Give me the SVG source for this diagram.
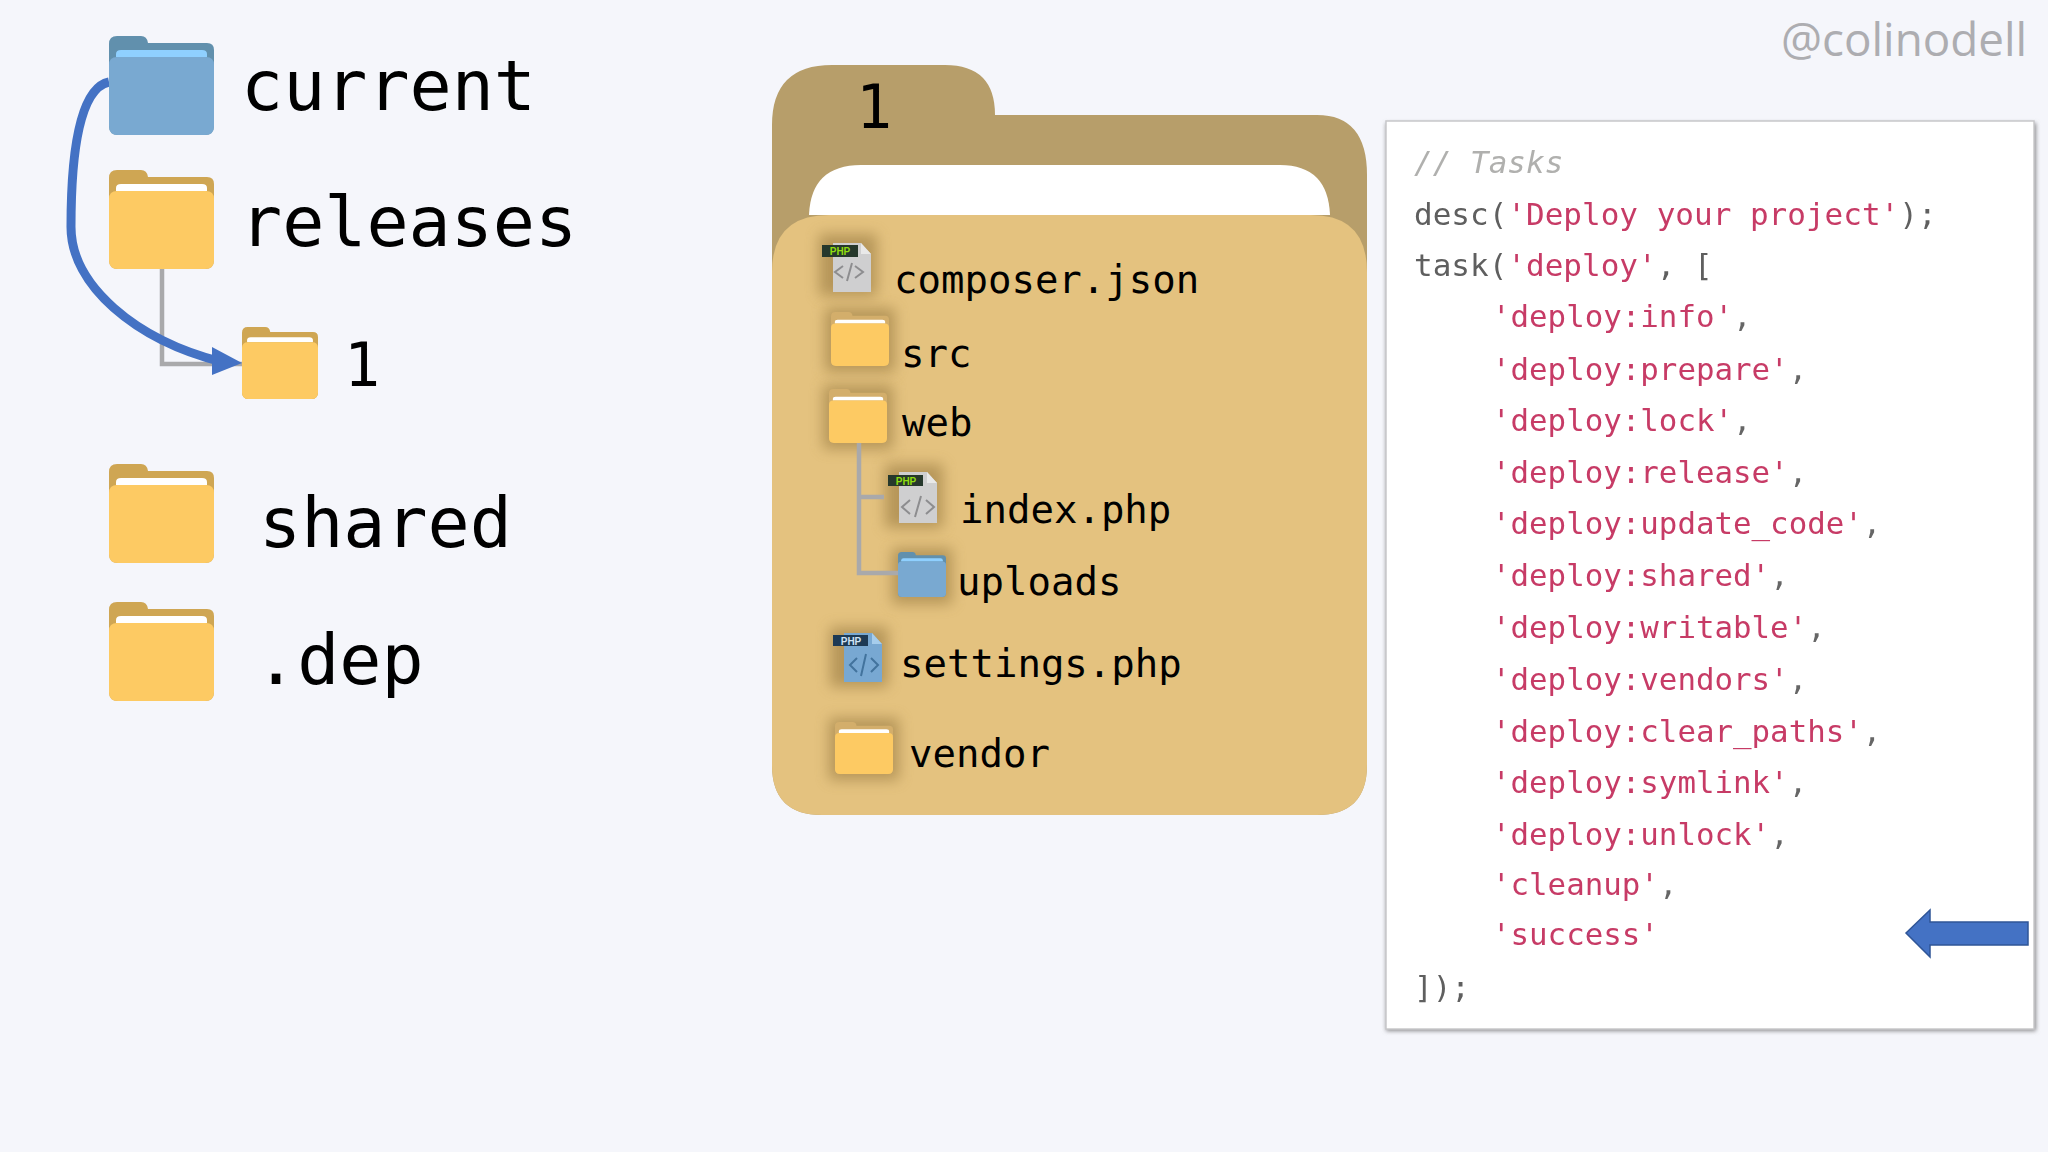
<svg xmlns="http://www.w3.org/2000/svg" width="2048" height="1152" viewBox="0 0 2048 1152">
<style>
text{font-family:"DejaVu Sans Mono","Liberation Mono",monospace;fill:#000}
.big{font-size:70px}
.mid{font-size:39px}
.one{font-size:60px}
.code text{font-size:31px}
.code .i{font-size:30.8px}
.g{fill:#5f5f5f}
.r{fill:#c73b66}
.c{fill:#b0b0ae;font-style:italic}
.p{fill:#666}
.tree{fill:none;stroke:#a9a9ab;stroke-width:4.5}
.halo{fill:#9a7b42;opacity:.62;filter:url(#haloBlur)}
.pg{fill:#cfcfd0}
.pgb{fill:#78a8d2}
.fold{fill:#e9e9e9}
.foldb{fill:#a6cdec}
.bd{fill:#26382c}
.bdb{fill:#1d3a55}
.bt{font-family:"Liberation Sans",Arial,sans-serif;font-size:10px;font-weight:700;fill:#8fdc10;text-anchor:middle}
.btb{fill:#cfe3f4}
.gl{fill:none;stroke:#8d8d8f;stroke-width:2}
.glb{fill:none;stroke:#42739d;stroke-width:2}
</style>
<defs>
<filter id="haloBlur" x="-40%" y="-40%" width="180%" height="180%"><feGaussianBlur stdDeviation="7"/></filter>
<filter id="soft" x="-2%" y="-10%" width="104%" height="120%"><feGaussianBlur stdDeviation="0.55"/></filter>
<filter id="panelShadow" x="-3%" y="-3%" width="106%" height="106%"><feGaussianBlur stdDeviation="2"/></filter>
<symbol id="folderY" viewBox="0 0 105 99" preserveAspectRatio="none">
<path d="M0 90V8Q0 0 8 0H32Q38 0 39 7H98Q105 7 105 14V90Q105 99 96 99H9Q0 99 0 90Z" fill="#cfa653"/>
<path d="M7 21V18Q7 14 12 14H93Q98 14 98 18V21Z" fill="#fff"/>
<path d="M0 90V29Q0 21 8 21H97Q105 21 105 29V90Q105 99 96 99H9Q0 99 0 90Z" fill="#fdca63"/>
</symbol>
<symbol id="folderS" viewBox="0 0 105 99" preserveAspectRatio="none">
<path d="M0 90V8Q0 0 8 0H32Q38 0 39 7H98Q105 7 105 14V90Q105 99 96 99H9Q0 99 0 90Z" fill="#d3ae6b"/>
<path d="M7 21V18Q7 14 12 14H93Q98 14 98 18V21Z" fill="#fff"/>
<path d="M0 90V29Q0 21 8 21H97Q105 21 105 29V90Q105 99 96 99H9Q0 99 0 90Z" fill="#fdca63"/>
</symbol>
<symbol id="folderB" viewBox="0 0 105 99" preserveAspectRatio="none">
<path d="M0 90V8Q0 0 8 0H32Q38 0 39 7H98Q105 7 105 14V90Q105 99 96 99H9Q0 99 0 90Z" fill="#6190ad"/>
<path d="M7 21V18Q7 14 12 14H93Q98 14 98 18V21Z" fill="#8fd0ff"/>
<path d="M0 90V29Q0 21 8 21H97Q105 21 105 29V90Q105 99 96 99H9Q0 99 0 90Z" fill="#79a9d1"/>
</symbol>
</defs>
<rect width="2048" height="1152" fill="#f5f6fb"/>

<g id="connectors">
<path class="tree" d="M162 269V364H242"/>
<path d="M109 82C80 88 71 150 71 227C71 285 135 340 222 362" fill="none" stroke="#4472c4" stroke-width="9"/>
<path d="M242 363L212 347L212 375Z" fill="#4472c4"/>
</g>

<g id="node-current"><use href="#folderB" x="109" y="36" width="105" height="99"/><text class="big" x="241" y="110">current</text></g>
<g id="node-releases"><use href="#folderY" x="109" y="170" width="105" height="99"/><text class="big" x="240" y="246">releases</text></g>
<g id="node-1"><use href="#folderY" x="242" y="327" width="76" height="72"/><text class="one" x="344" y="386">1</text></g>
<g id="node-shared"><use href="#folderY" x="109" y="464" width="105" height="99"/><text class="big" x="259" y="547">shared</text></g>
<g id="node-dep"><use href="#folderY" x="109" y="602" width="105" height="99"/><text class="big" x="255" y="684">.dep</text></g>

<g id="big-folder">
<path d="M772 815V125Q772 65 832 65H945Q995 65 995 115H1317Q1367 115 1367 175V765Q1367 815 1317 815H822Q772 815 772 765Z" fill="#b79e6a"/>
<path d="M809 215Q811 165 861 165H1280Q1328 165 1330 215Z" fill="#fff"/>
<path d="M772 765V272Q772 215 829 215H1311Q1367 215 1367 272V765Q1367 815 1317 815H822Q772 815 772 765Z" fill="#e4c27f"/>
<text class="one" x="856" y="128">1</text>
</g>

<g id="node-composer">
<rect class="halo" x="819" y="234" width="58" height="62"/>
<path class="pg" d="M833 243H861L871 254V292H833Z"/><path class="fold" d="M861 243L871 254H861Z"/>
<rect class="bd" x="822" y="245" width="36" height="12"/><text class="bt" x="840" y="255">PHP</text>
<path class="gl" d="M843 266L835 272L843 278M855 266L863 272L855 278M852 263L847 281"/>
<text class="mid" x="894" y="293">composer.json</text>
</g>
<g id="node-src">
<rect class="halo" x="825" y="308" width="70" height="64"/>
<use href="#folderS" x="831" y="312" width="58" height="54"/>
<text class="mid" x="901" y="367">src</text>
</g>
<g id="node-web">
<rect class="halo" x="823" y="385" width="70" height="64"/>
<use href="#folderS" x="829" y="389" width="58" height="54"/>
<text class="mid" x="902" y="436">web</text>
</g>
<g id="node-index">
<rect class="halo" x="885" y="464" width="58" height="64"/>
<path class="pg" d="M899 472H927L937 483V523H899Z"/><path class="fold" d="M927 472L937 483H927Z"/>
<rect class="bd" x="888" y="475" width="35" height="11"/><text class="bt" x="906" y="485">PHP</text>
<path class="gl" d="M910 500L902 507L910 514M926 500L934 507L926 514M921 496L915 517"/>
<text class="mid" x="960" y="523">index.php</text>
</g>
<g id="node-uploads">
<rect class="halo" x="892" y="548" width="60" height="56"/>
<use href="#folderB" x="898" y="552" width="48" height="45"/>
<text class="mid" x="957" y="595">uploads</text>
</g>
<g id="node-settings">
<rect class="halo" x="830" y="627" width="58" height="60"/>
<path class="pgb" d="M844 633H872L882 644V682H844Z"/><path class="foldb" d="M872 633L882 644H872Z"/>
<rect class="bdb" x="833" y="635" width="35" height="11"/><text class="bt btb" x="851" y="645">PHP</text>
<path class="glb" d="M857 658L850 665L857 672M871 658L878 665L871 672M866 654L861 676"/>
<text class="mid" x="900" y="677">settings.php</text>
</g>
<g id="node-vendor">
<rect class="halo" x="829" y="718" width="70" height="62"/>
<use href="#folderS" x="835" y="722" width="58" height="52"/>
<text class="mid" x="909" y="767">vendor</text>
</g>
<g id="tree-web"><path class="tree" d="M859 443V573H898M859 497H884"/></g>

<g id="code-panel">
<rect x="1386" y="123" width="650" height="908" fill="#8a8a8c" filter="url(#panelShadow)"/>
<rect x="1386" y="121" width="648" height="908" fill="#fff" stroke="#c8c8ca" stroke-width="1.5"/>
<g class="code" filter="url(#soft)">
<text class="c" x="1414" y="173">// Tasks</text>
<text x="1414" y="225" class="g">desc(<tspan class="r">'Deploy your project'</tspan>);</text>
<text x="1414" y="276" class="g">task(<tspan class="r">'deploy'</tspan>, [</text>
<text x="1492" y="327" class="r i">'deploy:info'<tspan class="p">,</tspan></text>
<text x="1492" y="380" class="r i">'deploy:prepare'<tspan class="p">,</tspan></text>
<text x="1492" y="431" class="r i">'deploy:lock'<tspan class="p">,</tspan></text>
<text x="1492" y="483" class="r i">'deploy:release'<tspan class="p">,</tspan></text>
<text x="1492" y="534" class="r i">'deploy:update_code'<tspan class="p">,</tspan></text>
<text x="1492" y="586" class="r i">'deploy:shared'<tspan class="p">,</tspan></text>
<text x="1492" y="638" class="r i">'deploy:writable'<tspan class="p">,</tspan></text>
<text x="1492" y="690" class="r i">'deploy:vendors'<tspan class="p">,</tspan></text>
<text x="1492" y="742" class="r i">'deploy:clear_paths'<tspan class="p">,</tspan></text>
<text x="1492" y="793" class="r i">'deploy:symlink'<tspan class="p">,</tspan></text>
<text x="1492" y="845" class="r i">'deploy:unlock'<tspan class="p">,</tspan></text>
<text x="1492" y="895" class="r i">'cleanup'<tspan class="p">,</tspan></text>
<text x="1492" y="945" class="r i">'success'</text>
<text x="1414" y="998" class="g">]);</text>
</g>
</g>
<path id="success-arrow" d="M1906 933L1930 910V922H2028V945H1930V957Z" fill="#4472c4" stroke="#2f5597" stroke-width="1.5"/>
<text id="handle" x="1781" y="56" style="font-family:'Open Sans','Noto Sans',sans-serif;font-size:45.8px;fill:#adadb1">@colinodell</text>
</svg>
